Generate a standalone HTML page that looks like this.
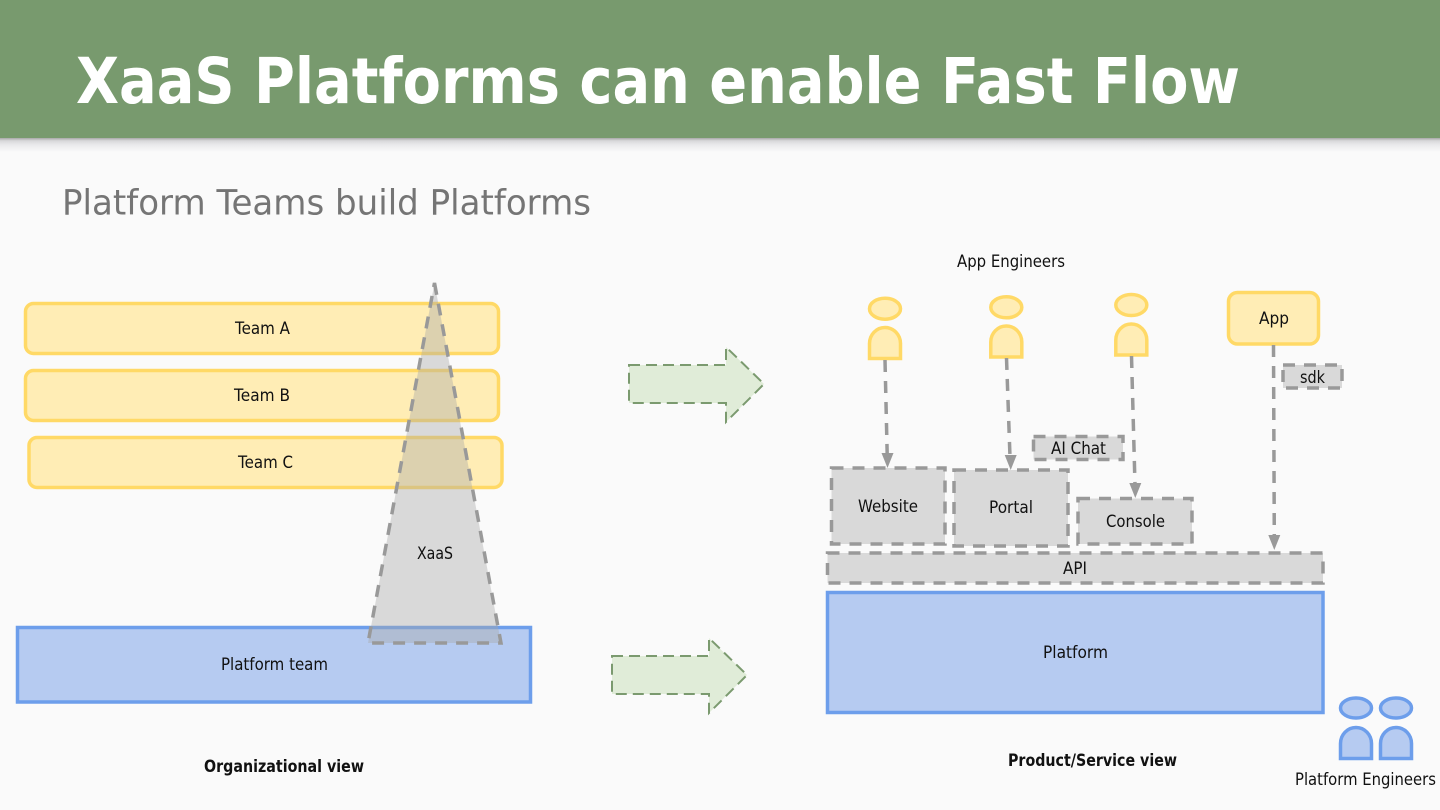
<!DOCTYPE html>
<html>
<head>
<meta charset="utf-8">
<style>
html,body{margin:0;padding:0;width:1440px;height:810px;overflow:hidden;background:#fafafa}
svg{display:block}
text{font-family:"DejaVu Sans","Liberation Sans",sans-serif;fill:#111;font-size:17px}
.d{stroke:#999;stroke-width:3.5;stroke-dasharray:12 9;fill:#d9d9d9}
.y{fill:#ffedb5;stroke:#ffd966;stroke-width:3.5}
.b{fill:#b6cbf1;stroke:#6d9eeb;stroke-width:3.5}
.c{stroke:#999;stroke-width:3.5;stroke-dasharray:12 9;fill:none}
.h{fill:#999;stroke:none}
.g{fill:#e0ecd8;stroke:#7b9a6f;stroke-width:2;stroke-dasharray:11 6}
</style>
</head>
<body>
<svg width="1440" height="810" viewBox="0 0 1440 810" xmlns="http://www.w3.org/2000/svg">
<defs>
<linearGradient id="s" x1="0" y1="0" x2="0" y2="1">
<stop offset="0" stop-color="#a8a8a8"/>
<stop offset=".2" stop-color="#d8d8da"/>
<stop offset=".5" stop-color="#eaeaec"/>
<stop offset="1" stop-color="#fafafa"/>
</linearGradient>
</defs>
<rect width="1440" height="810" fill="#fafafa"/>
<rect y="138" width="1440" height="14" fill="url(#s)"/>
<rect width="1440" height="138" fill="#789a6e"/>
<text x="76" y="103" textLength="1164" lengthAdjust="spacingAndGlyphs" style="font-size:63px;font-weight:700;fill:#fff">XaaS Platforms can enable Fast Flow</text>
<text x="62" y="214.5" textLength="529" lengthAdjust="spacingAndGlyphs" style="font-size:35px;fill:#757575">Platform Teams build Platforms</text>

<rect class="y" x="25.5" y="303.5" width="473" height="50" rx="8"/>
<rect class="y" x="25.5" y="370.5" width="473" height="50" rx="8"/>
<rect class="y" x="29" y="437.5" width="473" height="50" rx="8"/>
<rect class="b" x="17.5" y="627.5" width="513" height="74.5"/>
<polygon points="434.5,283 501,643 368,643" fill="#a7a7a7" fill-opacity=".4" stroke="none"/>
<polygon points="434.5,283 501,643 368,643" fill="none" stroke="#999" stroke-width="3.5" stroke-dasharray="12 9"/>
<text x="235" y="334" textLength="55" lengthAdjust="spacingAndGlyphs">Team A</text>
<text x="234" y="401" textLength="56" lengthAdjust="spacingAndGlyphs">Team B</text>
<text x="238" y="468" textLength="55" lengthAdjust="spacingAndGlyphs">Team C</text>
<text x="417" y="559" textLength="36" lengthAdjust="spacingAndGlyphs">XaaS</text>
<text x="221" y="670" textLength="107" lengthAdjust="spacingAndGlyphs">Platform team</text>
<text x="204" y="772" textLength="160" lengthAdjust="spacingAndGlyphs" style="font-weight:700">Organizational view</text>

<polygon class="g" points="629,365 726,365 726,347 764,384 726,422 726,403 629,403"/>
<polygon class="g" points="612,656 709,656 709,638 747,675 709,713 709,694 612,694"/>

<ellipse class="y" cx="885" cy="308.7" rx="15.5" ry="10.5"/>
<path class="y" d="M869.5 358.5V343.5A15.5 16 0 0 1 900.5 343.5V358.5Z"/>
<ellipse class="y" cx="1006.3" cy="307.3" rx="15.5" ry="10.5"/>
<path class="y" d="M990.8 357V342A15.5 16 0 0 1 1021.8 342V357Z"/>
<ellipse class="y" cx="1131.3" cy="305" rx="15.5" ry="10.5"/>
<path class="y" d="M1115.8 355V340A15.5 16 0 0 1 1146.8 340V355Z"/>
<rect class="y" x="1228.5" y="292.5" width="90" height="51.5" rx="9"/>
<text x="957" y="267" textLength="108" lengthAdjust="spacingAndGlyphs">App Engineers</text>
<text x="1259" y="324" textLength="30" lengthAdjust="spacingAndGlyphs">App</text>

<line class="c" x1="885" y1="360" x2="887.2" y2="455"/>
<polygon class="h" points="881.5,453 893.5,453 887.5,468"/>
<line class="c" x1="1006.5" y1="358" x2="1010" y2="457"/>
<polygon class="h" points="1004.7,455 1016.7,455 1010.7,470"/>
<line class="c" x1="1131.5" y1="356" x2="1135" y2="485"/>
<polygon class="h" points="1129.3,483 1141.3,483 1135.3,498"/>
<line class="c" x1="1273.5" y1="345" x2="1274.3" y2="538"/>
<polygon class="h" points="1268.3,535 1280.3,535 1274.3,550"/>

<rect class="d" x="1283" y="365" width="59" height="23"/>
<text x="1300" y="383" textLength="25" lengthAdjust="spacingAndGlyphs">sdk</text>
<rect class="d" x="1033.5" y="436.5" width="89.5" height="23"/>
<text x="1051" y="454" textLength="55" lengthAdjust="spacingAndGlyphs">AI Chat</text>

<rect class="d" x="831.5" y="468" width="113.5" height="76"/>
<text x="858" y="512" textLength="60" lengthAdjust="spacingAndGlyphs">Website</text>
<rect class="d" x="954" y="470" width="114" height="76"/>
<text x="989" y="513" textLength="44" lengthAdjust="spacingAndGlyphs">Portal</text>
<rect class="d" x="1078" y="498.5" width="114" height="45.5"/>
<text x="1106" y="527" textLength="59" lengthAdjust="spacingAndGlyphs">Console</text>
<rect class="d" x="827.5" y="553" width="495.5" height="30"/>
<text x="1063" y="574" textLength="24" lengthAdjust="spacingAndGlyphs">API</text>
<rect class="b" x="827.5" y="592.5" width="495.5" height="120"/>
<text x="1043" y="658" textLength="65" lengthAdjust="spacingAndGlyphs">Platform</text>
<text x="1008" y="766" textLength="169" lengthAdjust="spacingAndGlyphs" style="font-weight:700">Product/Service view</text>

<ellipse class="b" cx="1356" cy="708" rx="15.5" ry="10"/>
<path class="b" d="M1340.5 758.5V743.5A15.5 16 0 0 1 1371.5 743.5V758.5Z"/>
<ellipse class="b" cx="1396" cy="708" rx="15.5" ry="10"/>
<path class="b" d="M1380.5 758.5V743.5A15.5 16 0 0 1 1411.5 743.5V758.5Z"/>
<text x="1295" y="785" textLength="141" lengthAdjust="spacingAndGlyphs">Platform Engineers</text>
</svg>
</body>
</html>
